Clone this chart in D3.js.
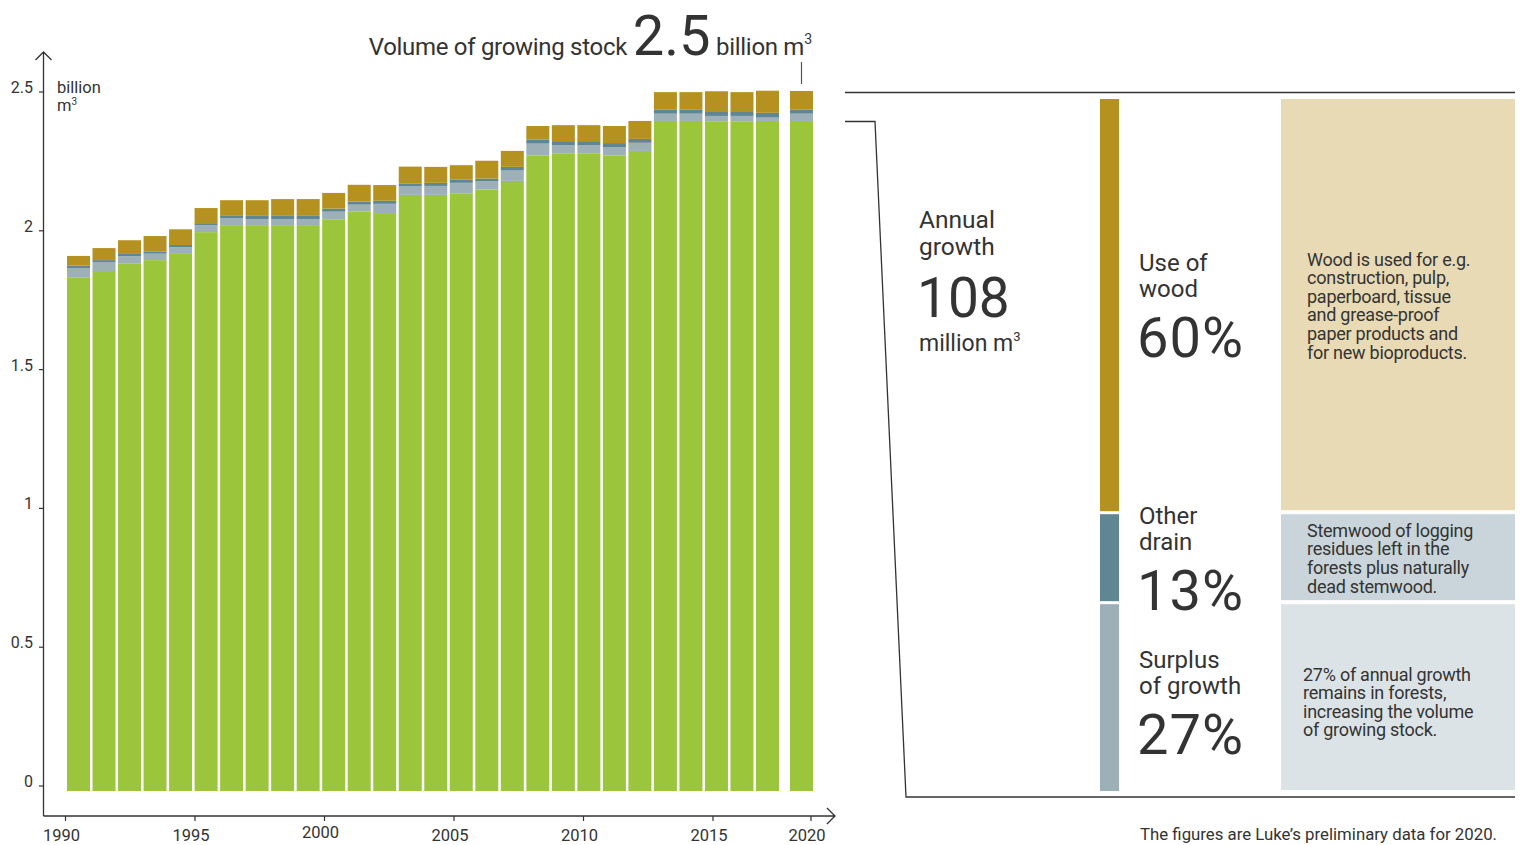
<!DOCTYPE html>
<html>
<head>
<meta charset="utf-8">
<script src="https://cdn.jsdelivr.net/npm/d3@7"></script>
<style>
  body { margin: 0; background: #fff; }
  text { font-family: Roboto, "Open Sans", sans-serif; fill: #333; }
</style>
</head>
<body>
<svg id="chart"></svg>
<script>
// Years shown as bars (2018-2019 not drawn, 2020 preliminary)
const years = [1990, 1991, 1992, 1993, 1994, 1995, 1996, 1997, 1998, 1999,
               2000, 2001, 2002, 2003, 2004, 2005, 2006, 2007, 2008, 2009,
               2010, 2011, 2012, 2013, 2014, 2015, 2016, 2017, 2020];

// Volume of growing stock, billion m3
const stock = [1.833, 1.857, 1.883, 1.896, 1.921, 1.996, 2.021, 2.021, 2.021, 2.021,
               2.040, 2.069, 2.064, 2.129, 2.129, 2.133, 2.148, 2.179, 2.269, 2.276,
               2.276, 2.269, 2.286, 2.393, 2.393, 2.390, 2.390, 2.393, 2.393];
// Surplus of growth
const surplus = [0.035, 0.032, 0.027, 0.023, 0.021, 0.025, 0.025, 0.021, 0.021, 0.021,
                 0.029, 0.025, 0.033, 0.030, 0.032, 0.039, 0.029, 0.037, 0.043, 0.031,
                 0.031, 0.031, 0.029, 0.026, 0.026, 0.021, 0.021, 0.012, 0.026];
// Other drain
const otherDrain = [0.008, 0.007, 0.008, 0.007, 0.008, 0.007, 0.008, 0.012, 0.012, 0.012,
                    0.011, 0.011, 0.011, 0.011, 0.011, 0.011, 0.010, 0.013, 0.014, 0.014,
                    0.014, 0.014, 0.014, 0.014, 0.014, 0.017, 0.017, 0.017, 0.014];
// Use of wood
const useOfWood = [0.035, 0.043, 0.049, 0.056, 0.056, 0.054, 0.056, 0.056, 0.060, 0.060,
                   0.056, 0.060, 0.056, 0.060, 0.057, 0.052, 0.064, 0.057, 0.049, 0.057,
                   0.057, 0.061, 0.064, 0.063, 0.063, 0.071, 0.068, 0.079, 0.067];

const yTicks = [0, 0.5, 1, 1.5, 2, 2.5];
const xTicks = [1990, 1995, 2000, 2005, 2010, 2015, 2020];

// Breakdown of annual growth in 2020
const shareNames = [["Use of", "wood"], ["Other", "drain"], ["Surplus", "of growth"]];
const sharePct = [60, 13, 27];
const shareNotes = [
  ["Wood is used for e.g.", "construction, pulp,", "paperboard, tissue", "and grease-proof", "paper products and", "for new bioproducts."],
  ["Stemwood of logging", "residues left in the", "forests plus naturally", "dead stemwood."],
  ["27% of annual growth", "remains in forests,", "increasing the volume", "of growing stock."]
];

const keys = ["stock", "surplus", "drain", "use"];
const colors = { stock: "#9bc63c", surplus: "#9eb0b7", drain: "#608693", use: "#b59220" };
const barColors = ["#b59220", "#608693", "#9eb0b7"];
const boxColors = ["#e8dab4", "#c9d5da", "#dce3e6"];

const width = 1520, height = 845;
const svg = d3.select("#chart").attr("width", width).attr("height", height);

// Table for the stack
const table = years.map((yr, i) => ({
  year: yr, stock: stock[i], surplus: surplus[i], drain: otherDrain[i], use: useOfWood[i]
}));

// Scales
const x = d3.scaleLinear().domain([1990, 2017, 2020]).range([67, 756, 790]); // left edge of bars
const barW = 23;
const y = d3.scaleLinear().domain([0, 2.5]).range([791, 91]);
const yAx = d3.scaleLinear().domain([0, 2.5]).range([786, 92]);
const xAx = d3.scaleLinear().domain([1990, 2015, 2020]).range([65.5, 713, 811]);

// Stacked bars
const series = d3.stack().keys(keys)(table);
svg.append("g").selectAll("g")
  .data(series)
  .join("g")
    .attr("fill", d => colors[d.key])
  .selectAll("rect")
  .data(d => d)
  .join("rect")
    .attr("x", d => x(d.data.year))
    .attr("width", barW)
    .attr("y", d => y(d[1]))
    .attr("height", d => y(d[0]) - y(d[1]));

// Axes lines with arrows
const axisG = svg.append("g").attr("fill", "none").attr("stroke", "#333").attr("stroke-width", 1.3);
axisG.append("path").attr("d", "M43.5,816V52M35.5,60L43.5,52L51.5,60");
axisG.append("path").attr("d", "M43.5,816H835M827,808L835,816L827,824");

// Y ticks
const yt = svg.append("g");
yt.selectAll("line").data(yTicks).join("line")
  .attr("x1", 39).attr("x2", 44)
  .attr("y1", d => yAx(d)).attr("y2", d => yAx(d))
  .attr("stroke", "#333").attr("stroke-width", 1.2);
yt.selectAll("text").data(yTicks).join("text")
  .attr("x", 33).attr("y", d => yAx(d) + 1)
  .attr("text-anchor", "end")
  .attr("font-size", 16)
  .text(d => d);

svg.append("text").attr("x", 57).attr("y", 93).attr("font-size", 16.5).text("billion");
svg.append("text").attr("x", 57).attr("y", 111).attr("font-size", 16.5)
  .text("m")
  .append("tspan").attr("font-size", 10).attr("dy", -6).text("3");

// X ticks
const xt = svg.append("g");
xt.selectAll("line").data(xTicks).join("line")
  .attr("x1", d => xAx(d)).attr("x2", d => xAx(d))
  .attr("y1", 816).attr("y2", 821)
  .attr("stroke", "#333").attr("stroke-width", 1.2);
xt.selectAll("text").data(xTicks).join("text")
  .attr("x", d => xAx(d) - 4).attr("y", d => d === 2000 ? 838 : 841)
  .attr("text-anchor", "middle")
  .attr("font-size", 16.5)
  .text(d => d);

// Title above the chart
const last = table[table.length - 1];
const title = svg.append("text").attr("x", 812).attr("y", 55).attr("text-anchor", "end");
title.append("tspan").attr("font-size", 24).attr("letter-spacing", -0.3).text("Volume of growing stock ");
title.append("tspan").attr("font-size", 56).text("2.5");
title.append("tspan").attr("font-size", 24).attr("letter-spacing", -0.3).text(" billion m");
title.append("tspan").attr("font-size", 14).attr("dy", -11).text("3");
svg.append("line")
  .attr("x1", x(last.year) + barW / 2).attr("x2", x(last.year) + barW / 2)
  .attr("y1", 62).attr("y2", 84)
  .attr("stroke", "#555").attr("stroke-width", 1.2);

// Bracket to the breakdown panel
const br = svg.append("g").attr("fill", "none").attr("stroke", "#333").attr("stroke-width", 1.3);
br.append("path").attr("d", "M845,92.5H1515");
br.append("path").attr("d", "M845,121.5H875L906,797H1515");

// Annual growth label
const ag = svg.append("g");
ag.append("text").attr("x", 919).attr("y", 228).attr("font-size", 24.5).text("Annual");
ag.append("text").attr("x", 919).attr("y", 255).attr("font-size", 24.5).text("growth");
ag.append("text").attr("x", 917).attr("y", 317).attr("font-size", 55).text("108");
ag.append("text").attr("x", 919).attr("y", 351).attr("font-size", 23).text("million m")
  .append("tspan").attr("font-size", 13).attr("dy", -10).text("3");

// Breakdown bars and boxes
const p = d3.scaleLinear().domain([0, 100]).range([99, 791]);
const gap = 3;
let cum = 0;
sharePct.forEach((v, i) => {
  const y0 = p(cum), y1 = p(cum + v) - (i < sharePct.length - 1 ? gap : 0);
  const mid = (y0 + y1) / 2 + (i === 2 ? 4 : 0);
  cum += v;
  svg.append("rect").attr("x", 1100).attr("width", 19)
    .attr("y", y0).attr("height", y1 - y0).attr("fill", barColors[i]);
  svg.append("rect").attr("x", 1281).attr("width", 234)
    .attr("y", y0).attr("height", y1 - y0 - 1).attr("fill", boxColors[i]);

  svg.append("text").attr("x", 1139).attr("y", mid - 34).attr("font-size", 24).text(shareNames[i][0]);
  svg.append("text").attr("x", 1139).attr("y", mid - 8).attr("font-size", 24).text(shareNames[i][1]);
  svg.append("text").attr("x", 1137).attr("y", mid + 52).attr("font-size", 56)
    .attr("letter-spacing", 1).text(v + "%");

  const notes = shareNotes[i];
  const lh = 18.6;
  const first = mid - (notes.length - 1) * lh / 2 + 7;
  svg.append("g").selectAll("text").data(notes).join("text")
    .attr("x", i === 2 ? 1303 : 1307)
    .attr("y", (d, j) => first + j * lh)
    .attr("font-size", 18)
    .attr("letter-spacing", -0.25)
    .text(d => d);
});

// Footnote
svg.append("text").attr("x", 1497).attr("y", 840).attr("text-anchor", "end")
  .attr("font-size", 16.8).text("The figures are Luke\u2019s preliminary data for 2020.");
</script>
</body>
</html>
